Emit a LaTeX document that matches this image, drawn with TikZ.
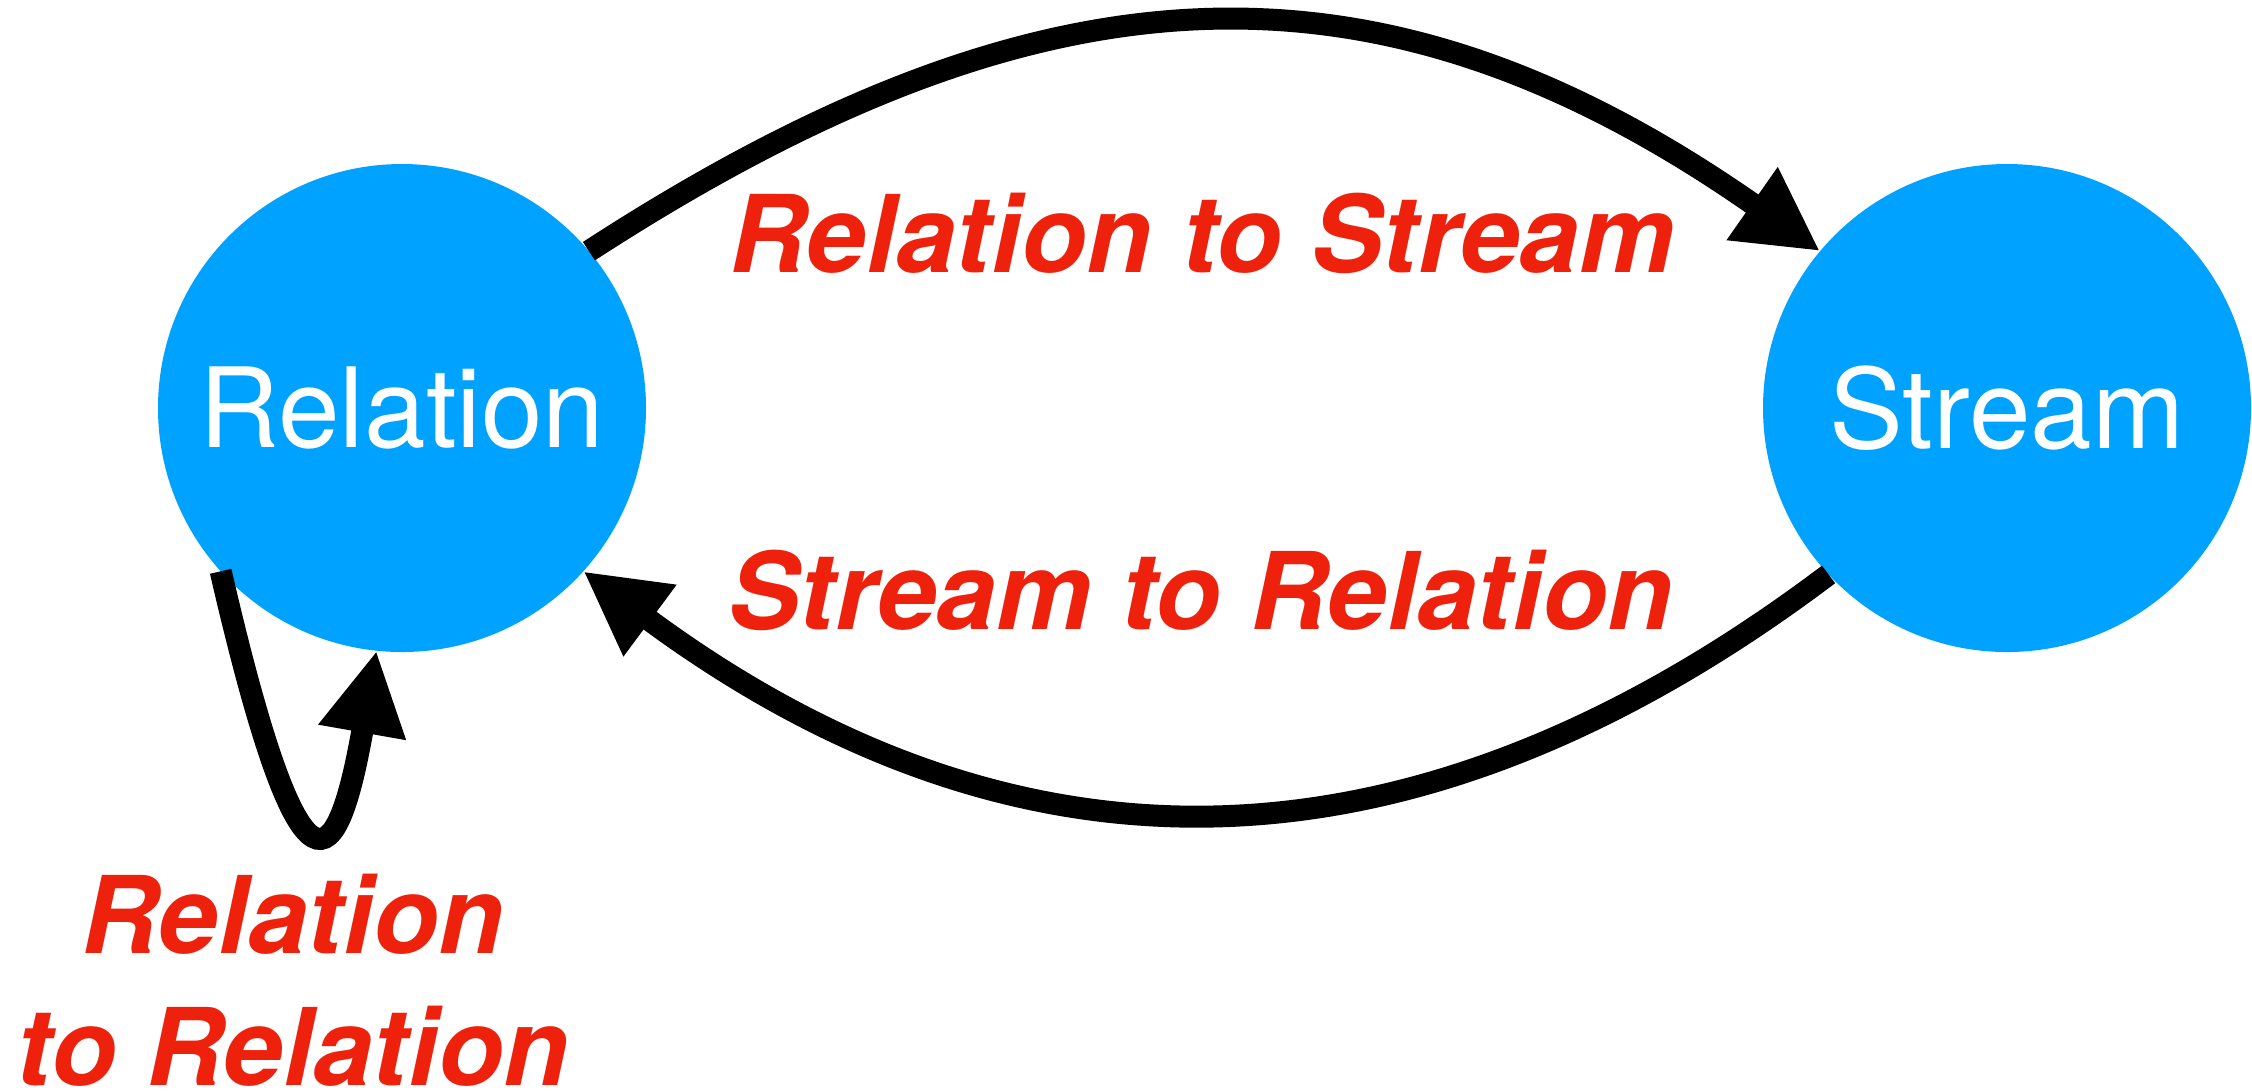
\documentclass[tikz,border=0pt]{standalone}
\usepackage{fontspec}
\setmainfont{TeX Gyre Heros}
\usetikzlibrary{arrows.meta}
\definecolor{stateblue}{HTML}{00A2FF}
\definecolor{labelred}{HTML}{EE220C}
\begin{document}
\begin{tikzpicture}[
  state/.style={circle, fill=stateblue, minimum size=4.88cm, inner sep=0pt,
    outer sep=0pt, text=white, font=\fontsize{31.5}{37}\selectfont},
  trans/.style={line width=0.22cm, -{Triangle[length=0.83cm,width=0.83cm]}},
  edgelabel/.style={text=labelred, inner sep=0pt, anchor=base,
    font=\fontsize{30.5}{37.3}\selectfont\bfseries\itshape},
]
\useasboundingbox (0,0) rectangle (22.52,-10.90);

% the two states
\node[state] (rel) at (4.02,-4.08) {Relation};
\node[state] (str) at (20.07,-4.08) {Stream};

% transitions
\draw[trans] (rel.40) to[out=33, in=145, distance=5.4cm] (str.140);
\draw[trans] (str.223) to[out=217, in=323.5, distance=5.3cm] (rel.318);
\draw[trans] (rel.222) to[out=283, in=260, out distance=3.65cm, in distance=2.25cm] (rel.264);

% transition labels (a multi-line node sits on the baseline of its last line)
\node[edgelabel] (lrs) at (12.02,-2.72) {Relation to Stream};
\node[edgelabel] (lsr) at (12.01,-6.29) {Stream to Relation};
\node[edgelabel, align=center] (lrr) at (2.93,-10.85) {Relation\\to Relation};
\end{tikzpicture}
\end{document}
